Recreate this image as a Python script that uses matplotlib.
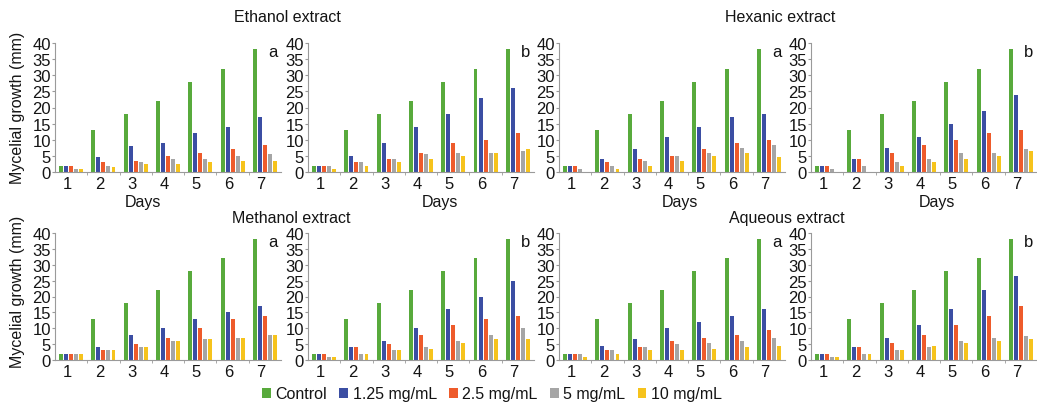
import matplotlib
matplotlib.use("Agg")
import matplotlib.pyplot as plt
from matplotlib.patches import Patch
import numpy as np

plt.rcParams['font.family'] = ['Liberation Sans', 'DejaVu Sans']

days = [1, 2, 3, 4, 5, 6, 7]
series = ["Control", "1.25 mg/mL", "2.5 mg/mL", "5 mg/mL", "10 mg/mL"]
colors = ["#58aa3c", "#3b4ea3", "#ee5b2b", "#a5a5a5", "#f6c31c"]

control = [2, 13, 18, 22, 28, 32, 38]

# ethanol extract
eth_a = [control,
         [2, 4.5, 8, 9, 12, 14, 17],
         [2, 3, 3.5, 5, 6, 7, 8.5],
         [1, 2, 3, 4, 4, 5, 5.5],
         [1, 1.5, 2.5, 2.5, 3, 3.5, 3.5]]
eth_b = [control,
         [2, 5, 9, 14, 18, 23, 26],
         [2, 3, 4, 6, 9, 10, 12],
         [2, 3, 4, 5.5, 6, 6, 6.5],
         [1, 2, 3, 4, 5, 6, 7]]
# hexanic extract
hex_a = [control,
         [2, 4, 7, 11, 14, 17, 18],
         [2, 3, 4, 5, 7, 9, 10],
         [1, 2, 3.5, 5, 6, 7.5, 8.5],
         [0, 1, 2, 3.5, 5, 6, 4.5]]
hex_b = [control,
         [2, 4, 7.5, 11, 15, 19, 24],
         [2, 4, 6, 8.5, 10, 12, 13],
         [1, 2, 3, 4, 6, 6, 7],
         [0, 0, 2, 3, 4, 5, 6.5]]
# methanol extract
met_a = [control,
         [2, 4, 8, 10, 13, 15, 17],
         [2, 3.2, 5, 7, 10, 13, 14],
         [2, 3.2, 4, 6, 6.5, 7, 8],
         [2, 3.2, 4, 6, 6.5, 7, 8]]
met_b = [control,
         [2, 4, 6, 10, 16, 20, 25],
         [2, 4, 5, 8, 11, 13, 14],
         [1, 2, 3, 4, 6, 8, 10],
         [1, 2, 3, 3.5, 5.5, 6.5, 6.5]]
# aqueous extract
aq_a = [control,
        [2, 4.5, 6.5, 10, 12, 14, 16],
        [2, 3.2, 4, 6, 7, 8, 9.5],
        [2, 3.2, 4, 5, 5.5, 6, 7],
        [1, 2, 3.2, 3.2, 3.5, 4, 4.5]]
aq_b = [control,
        [2, 4, 7, 11, 16, 22, 26.5],
        [2, 4, 5.5, 8, 11, 14, 17],
        [1, 2, 3.2, 4, 6, 7, 7.5],
        [1, 2, 3.2, 4.5, 5.5, 6, 6.5]]

panels = [eth_a, eth_b, hex_a, hex_b, met_a, met_b, aq_a, aq_b]
letters = ["a", "b", "a", "b", "a", "b", "a", "b"]
titles = ["Ethanol extract", "Hexanic extract", "Methanol extract", "Aqueous extract"]

W, H = 1037, 406
fig = plt.figure(figsize=(W / 100, H / 100), dpi=100)
fig.patch.set_facecolor("white")

lefts = [55, 308, 559, 811]
rows = [(44, 173), (234, 361)]
pw = 226
txt = "#141414"
axc = "#9a9a9a"

x = np.array(days)
slot = 0.155
bw = 0.12

for k, data in enumerate(panels):
    r, c = divmod(k, 4)
    top, bot = rows[r]
    ax = fig.add_axes([lefts[c] / W, 1 - bot / H, pw / W, (bot - top) / H])
    for j, vals in enumerate(data):
        ax.bar(x + (j - 2) * slot, vals, width=bw, color=colors[j])
    ax.set_xlim(0.5, 7.5)
    ax.set_ylim(0, 40)
    ax.set_yticks(range(0, 41, 5))
    ax.set_xticks(x - 0.12)
    ax.set_xticklabels([str(d) for d in days])
    ax.set_xticks(x[:-1] + 0.5, minor=True)
    for s in ["top", "right"]:
        ax.spines[s].set_visible(False)
    for s in ["left", "bottom"]:
        ax.spines[s].set_color(axc)
        ax.spines[s].set_linewidth(0.8)
    ax.tick_params(axis="y", length=2, color=axc, labelsize=12, labelcolor=txt, pad=1)
    ax.tick_params(axis="x", which="major", length=0, labelsize=12, labelcolor=txt, pad=3)
    ax.tick_params(axis="x", which="minor", length=2, color=axc)
    ax.text(0.985, 0.99, letters[k], transform=ax.transAxes, ha="right", va="top",
            fontsize=12, color=txt)

# titles
for t, (xc, yc) in zip(titles, [(287, 17), (780, 17), (291, 219), (787, 219)]):
    fig.text(xc / W, 1 - yc / H, t, ha="center", va="center", fontsize=11.5, color=txt)

# x labels (top row only)
for xc in [143, 440, 680, 937]:
    fig.text(xc / W, 1 - 203 / H, "Days", ha="center", va="center", fontsize=11.5, color=txt)

# y labels
for yc in [108, 292]:
    fig.text(18 / W, 1 - yc / H, "Mycelial growth (mm)", ha="center", va="center",
             rotation=90, fontsize=11.5, color=txt)

handles = [Patch(facecolor=col, label=lab) for col, lab in zip(colors, series)]
fig.legend(handles=handles, loc="center", bbox_to_anchor=(492 / W, 1 - 395 / H), ncol=5,
           frameon=False, fontsize=11.5, handlelength=0.55, handleheight=0.55,
           handletextpad=0.3, columnspacing=0.75, labelcolor=txt)

fig.savefig("out.png", dpi=100, facecolor="white")
